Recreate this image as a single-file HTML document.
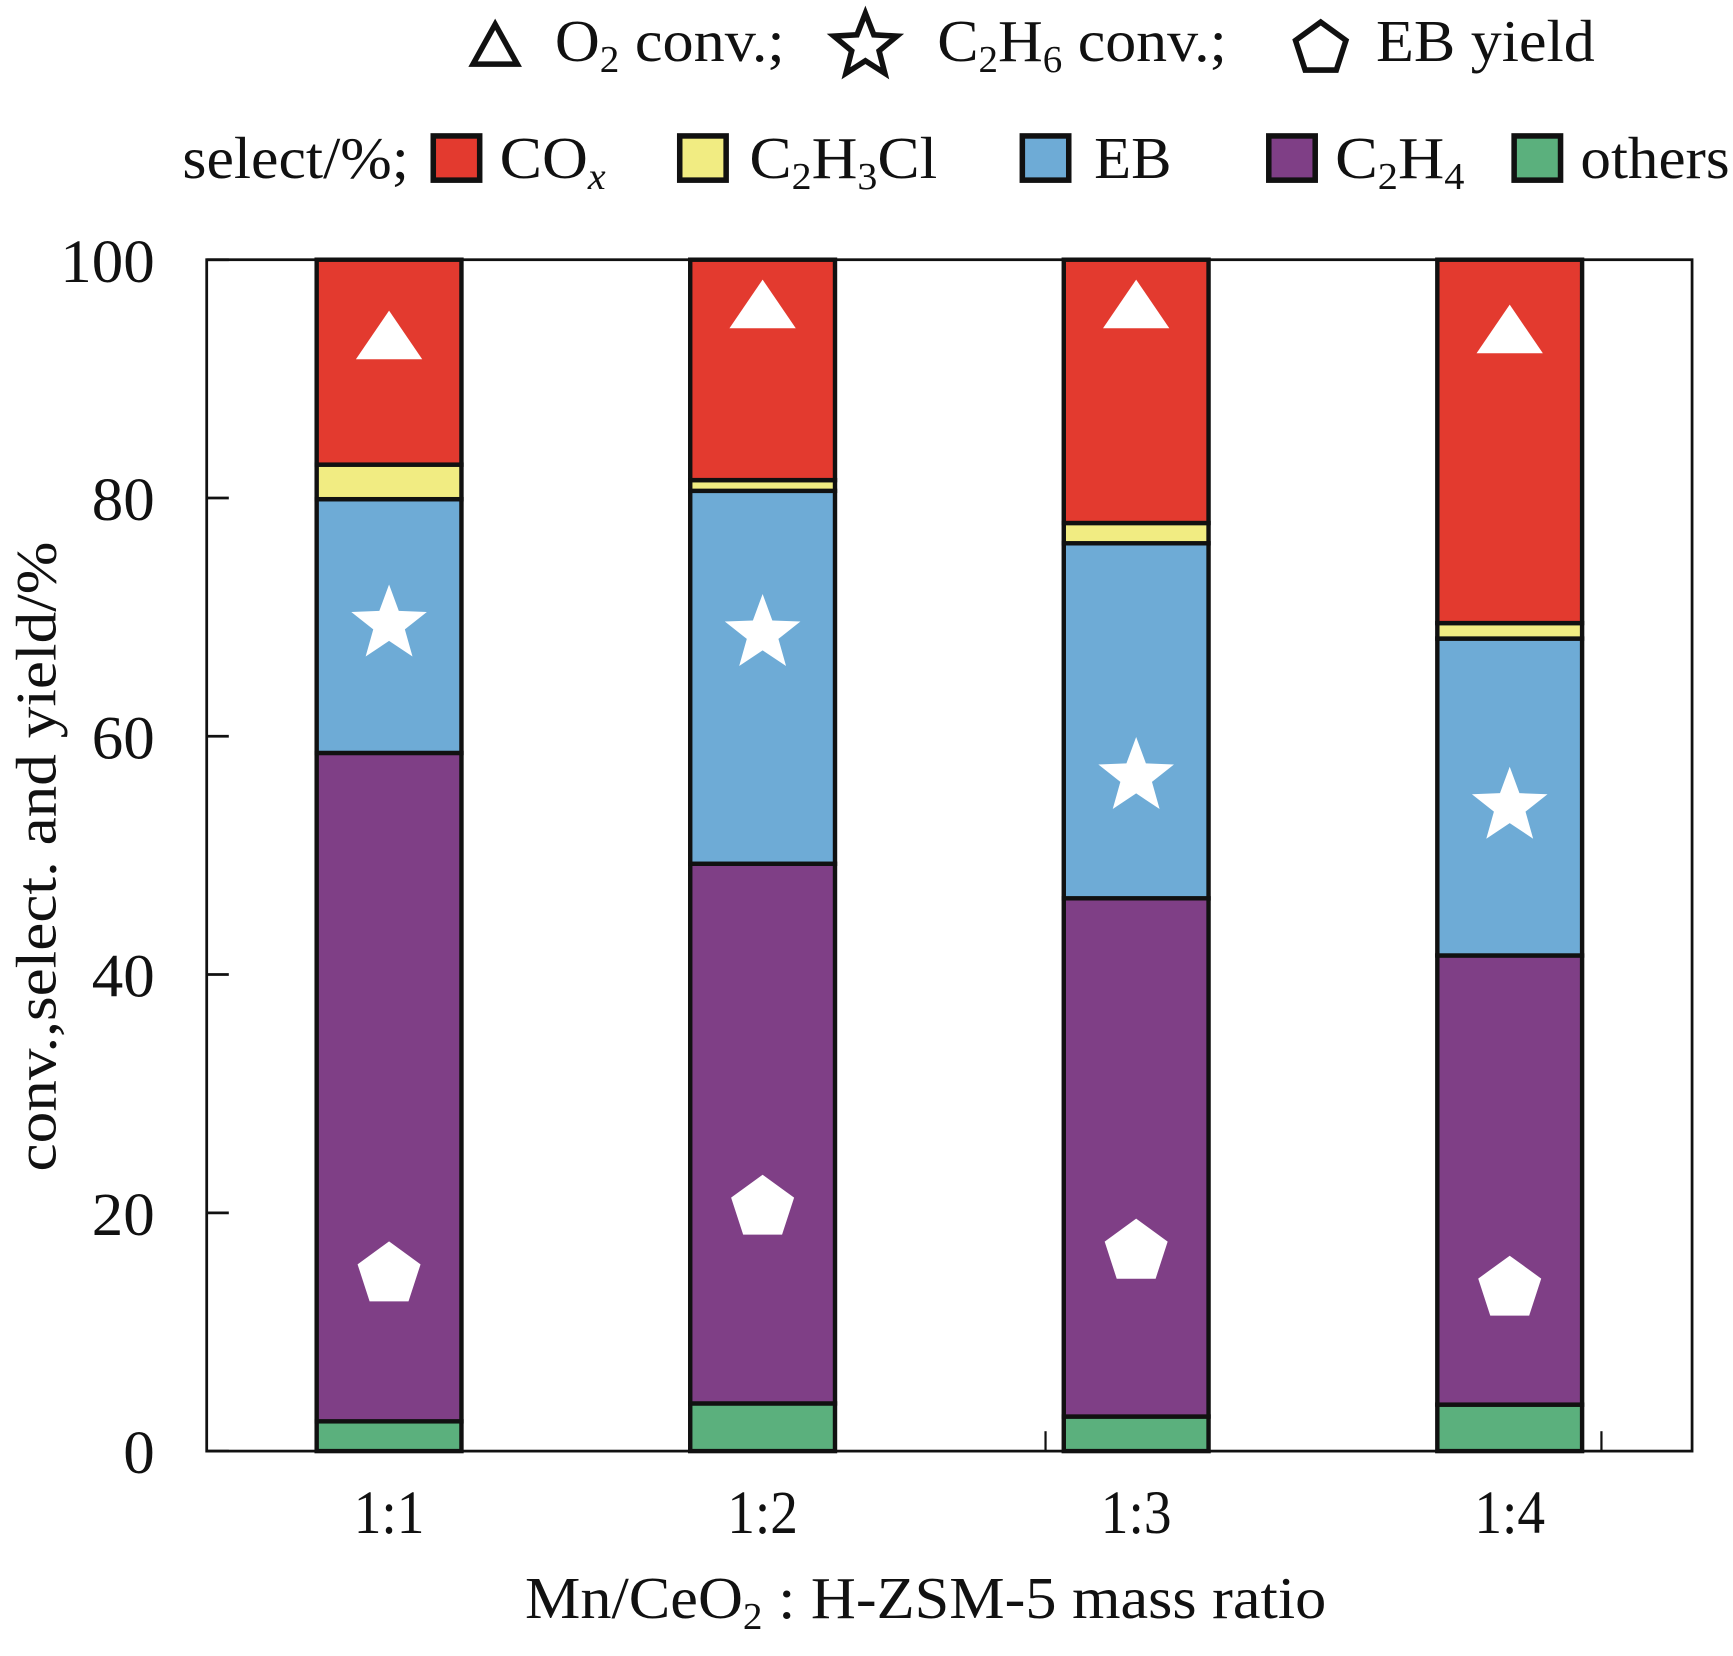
<!DOCTYPE html>
<html><head><meta charset="utf-8"><style>html,body{margin:0;padding:0;background:#fff}svg{display:block}text{font-family:"Liberation Serif",serif;fill:#111}</style></head>
<body>
<svg id="chart" width="1733" height="1656" viewBox="0 0 1568 1498.4" xmlns="http://www.w3.org/2000/svg">
<g id="legend">
  <g>
    <polygon points="448,22 428,58 468,58" fill="none" stroke="#111" stroke-width="5"/>
    <text x="502" y="55" font-size="54" textLength="208" lengthAdjust="spacingAndGlyphs">O<tspan font-size="34" dy="10">2</tspan><tspan dy="-10"> conv.;</tspan></text>
  </g>
  <g>
    <polygon id="legstar" fill="none" stroke="#111" stroke-width="5"/>
    <text x="848" y="55" font-size="54" textLength="262" lengthAdjust="spacingAndGlyphs">C<tspan font-size="34" dy="10">2</tspan><tspan dy="-10">H</tspan><tspan font-size="34" dy="10">6</tspan><tspan dy="-10"> conv.;</tspan></text>
  </g>
  <g>
    <polygon id="legpent" fill="none" stroke="#111" stroke-width="5"/>
    <text x="1245" y="55" font-size="54" textLength="198" lengthAdjust="spacingAndGlyphs">EB yield</text>
  </g>
  <text x="165" y="161" font-size="54" textLength="205" lengthAdjust="spacingAndGlyphs">select/%;</text>
  <g><rect x="392" y="123" width="42" height="40" fill="#e33a2f" stroke="#111" stroke-width="5"/><text x="452" y="161" font-size="54" textLength="96" lengthAdjust="spacingAndGlyphs">CO<tspan font-size="34" dy="10" font-style="italic">x</tspan></text></g>
  <g><rect x="615" y="123" width="42" height="40" fill="#f1ec82" stroke="#111" stroke-width="5"/><text x="678" y="161" font-size="54" textLength="170" lengthAdjust="spacingAndGlyphs">C<tspan font-size="34" dy="10">2</tspan><tspan dy="-10">H</tspan><tspan font-size="34" dy="10">3</tspan><tspan dy="-10">Cl</tspan></text></g>
  <g><rect x="925" y="123" width="42" height="40" fill="#6eabd6" stroke="#111" stroke-width="5"/><text x="990" y="161" font-size="54" textLength="70" lengthAdjust="spacingAndGlyphs">EB</text></g>
  <g><rect x="1148" y="123" width="42" height="40" fill="#7f3f86" stroke="#111" stroke-width="5"/><text x="1208" y="161" font-size="54" textLength="117" lengthAdjust="spacingAndGlyphs">C<tspan font-size="34" dy="10">2</tspan><tspan dy="-10">H</tspan><tspan font-size="34" dy="10">4</tspan></text></g>
  <g><rect x="1370" y="123" width="42" height="40" fill="#5bb07d" stroke="#111" stroke-width="5"/><text x="1430" y="161" font-size="54" textLength="135" lengthAdjust="spacingAndGlyphs">others</text></g>
</g>
<rect x="187" y="235" width="1344" height="1078" fill="none" stroke="#111" stroke-width="2.5"/>
<g id="yaxis"></g>
<g id="bars"></g>
<g id="xaxis"></g>
<text transform="translate(50,775) rotate(-90)" x="-285" y="0" font-size="52" textLength="570" lengthAdjust="spacingAndGlyphs">conv.,select. and yield/%</text>
<text x="475" y="1464" font-size="54" textLength="725" lengthAdjust="spacingAndGlyphs">Mn/CeO<tspan font-size="34" dy="10">2</tspan><tspan dy="-10"> : H-ZSM-5 mass ratio</tspan></text>
</svg>
<script>
const categories = ["1:1", "1:2", "1:3", "1:4"];
const seriesNames = ["others", "C2H4", "EB", "C2H3Cl", "COx"];
const others = [2.5, 4.0, 2.9, 3.9];
const c2h4 = [56.1, 45.3, 43.5, 37.7];
const eb = [21.3, 31.3, 29.8, 26.6];
const c2h3cl = [2.9, 0.9, 1.7, 1.3];
const cox = [17.2, 18.5, 22.1, 30.5];
const o2Conv = [93.5, 96.1, 96.1, 94.0];
const c2h6Conv = [69.4, 68.6, 56.6, 54.1];
const ebYield = [15.1, 20.7, 17.0, 13.9];
const yTicks = [0, 20, 40, 60, 80, 100];

const NS = "http://www.w3.org/2000/svg";
const colors = ["#5bb07d", "#7f3f86", "#6eabd6", "#f1ec82", "#e33a2f"];
const series = [others, c2h4, eb, c2h3cl, cox];
const y = v => 1313 - v * 10.78;
const x = i => 352 + i * 338;
const barW = 131;
function mk(tag, attrs, parent) { const e = document.createElementNS(NS, tag); for (const k in attrs) e.setAttribute(k, attrs[k]); parent.appendChild(e); return e; }
function starPts(cx, cy, R, r) { let p = []; for (let k = 0; k < 10; k++) { const a = -Math.PI / 2 + k * Math.PI / 5; const rr = k % 2 ? r : R; p.push((cx + rr * Math.cos(a)).toFixed(1) + "," + (cy + rr * Math.sin(a)).toFixed(1)); } return p.join(" "); }
function pentPts(cx, cy, R) { let p = []; for (let k = 0; k < 5; k++) { const a = -Math.PI / 2 + k * 2 * Math.PI / 5; p.push((cx + R * Math.cos(a)).toFixed(1) + "," + (cy + R * Math.sin(a)).toFixed(1)); } return p.join(" "); }
document.getElementById("legstar").setAttribute("points", starPts(783, 42, 30, 13));
document.getElementById("legpent").setAttribute("points", pentPts(1195, 44, 24));

const ya = document.getElementById("yaxis");
yTicks.forEach(t => {
  const l = mk("line", {x1: 187, x2: 207, y1: y(t), y2: y(t), stroke: "#111", "stroke-width": 2.5}, ya);
  
  
  const s = String(t);
  const tx = mk("text", {x: 140 - 28.5 * s.length, y: y(t) + 20, "font-size": 56, textLength: 28.5 * s.length, lengthAdjust: "spacingAndGlyphs"}, ya);
  tx.textContent = s;
  
  
});
const bg = document.getElementById("bars");
categories.forEach((c, i) => {
  let base = 0;
  series.forEach((s, j) => {
    const top = base + s[i];
    const r = mk("rect", {x: x(i) - barW / 2, y: y(top), width: barW, height: y(base) - y(top), fill: colors[j], stroke: "#111", "stroke-width": 4}, bg);
    
    
    base = top;
  });
});
categories.forEach((c, i) => {
  const cx = x(i);
  const t = mk("polygon", {points: `${cx},${y(o2Conv[i]) - 24} ${cx - 30},${y(o2Conv[i]) + 20} ${cx + 30},${y(o2Conv[i]) + 20}`, fill: "#fff"}, bg);
  
  
  const s = mk("polygon", {points: starPts(cx, y(c2h6Conv[i]), 36, 15), fill: "#fff"}, bg);
  
  
  const p = mk("polygon", {points: pentPts(cx, y(ebYield[i]) + 3, 30), fill: "#fff"}, bg);
  
  
});
const xa = document.getElementById("xaxis");
categories.forEach((c, i) => {
  const tx = mk("text", {x: x(i) - 32, y: 1387, "font-size": 56, textLength: 64, lengthAdjust: "spacingAndGlyphs"}, xa);
  tx.textContent = c;
  
  
});
[946, 1449].forEach(px => {
  const l = mk("line", {x1: px, x2: px, y1: 1313, y2: 1295, stroke: "#111", "stroke-width": 2}, xa);
  
  
});
</script>
</body></html>
